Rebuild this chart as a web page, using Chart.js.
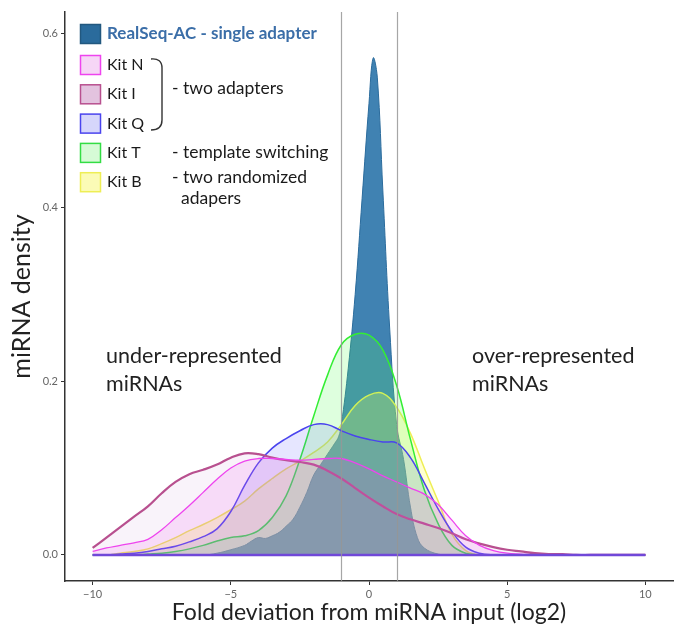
<!DOCTYPE html>
<html>
<head>
<meta charset="utf-8">
<script src="https://cdn.jsdelivr.net/npm/chart.js@4/dist/chart.umd.min.js"></script>
<style>
  html, body { margin: 0; padding: 0; background: #fff; }
  #wrap { width: 677px; height: 626px; }
</style>
</head>
<body>
<div id="wrap"><canvas id="densityChart" width="677" height="626"></canvas></div>
<script>
// x grid for the kit densities (log2 fold deviation)
const kitX = [-10, -9.5, -9, -8.5, -8, -7.5, -7, -6.5, -6, -5.5, -5, -4.5, -4, -3.5, -3, -2.5, -2, -1.5, -1, -0.5,
  0, 0.5, 1, 1.5, 2, 2.5, 3, 3.5, 4, 4.5, 5, 5.5, 6, 6.5, 7, 7.5, 8, 8.5, 9, 9.5, 10];

const kitN = [0.004, 0.008, 0.011, 0.014, 0.018, 0.029, 0.043, 0.057, 0.072, 0.087, 0.100, 0.108, 0.111, 0.111, 0.110, 0.109, 0.110, 0.111, 0.111, 0.106,
  0.099, 0.091, 0.084, 0.077, 0.070, 0.058, 0.040, 0.022, 0.011, 0.005, 0.002, 0.001, 0, 0, 0, 0, 0, 0, 0, 0, 0];
const kitI = [0.008, 0.020, 0.032, 0.044, 0.056, 0.071, 0.084, 0.093, 0.098, 0.104, 0.112, 0.117, 0.116, 0.112, 0.109, 0.107, 0.104, 0.097, 0.088, 0.077,
  0.066, 0.056, 0.047, 0.041, 0.036, 0.031, 0.025, 0.018, 0.013, 0.009, 0.006, 0.004, 0.002, 0.001, 0.001, 0, 0, 0, 0, 0, 0];
const kitQ = [0, 0, 0.001, 0.002, 0.004, 0.007, 0.010, 0.015, 0.021, 0.030, 0.050, 0.080, 0.106, 0.123, 0.134, 0.143, 0.150, 0.150, 0.143, 0.137,
  0.133, 0.130, 0.129, 0.112, 0.083, 0.053, 0.027, 0.009, 0.002, 0, 0, 0, 0, 0, 0, 0, 0, 0, 0, 0, 0];
const kitT = [0, 0, 0, 0, 0.001, 0.002, 0.004, 0.007, 0.011, 0.016, 0.020, 0.022, 0.028, 0.043, 0.068, 0.110, 0.160, 0.207, 0.242, 0.254,
  0.253, 0.236, 0.195, 0.133, 0.075, 0.036, 0.011, 0.002, 0, 0, 0, 0, 0, 0, 0, 0, 0, 0, 0, 0, 0];
const kitB = [0, 0, 0.002, 0.004, 0.007, 0.013, 0.020, 0.028, 0.035, 0.043, 0.052, 0.062, 0.076, 0.088, 0.099, 0.108, 0.118, 0.130, 0.150, 0.172,
  0.184, 0.186, 0.170, 0.140, 0.100, 0.062, 0.024, 0.005, 0, 0, 0, 0, 0, 0, 0, 0, 0, 0, 0, 0, 0];

// RealSeq-AC has a much narrower peak, so its own finer grid
const realX = [-10, -6, -5.5, -5, -4.5, -4.25, -4, -3.75, -3.5, -3.25, -3, -2.75, -2.5, -2.25, -2, -1.75, -1.5, -1.25, -1.1, -1,
  -0.75, -0.5, -0.25, 0, 0.15, 0.3, 0.5, 0.75, 1, 1.25, 1.5, 1.75, 2, 2.5, 3, 10];
const realSeq = [0, 0, 0.002, 0.006, 0.011, 0.016, 0.020, 0.019, 0.022, 0.026, 0.033, 0.041, 0.055, 0.072, 0.092, 0.104, 0.116, 0.128, 0.136, 0.150,
  0.215, 0.30, 0.41, 0.52, 0.572, 0.55, 0.42, 0.26, 0.15, 0.11, 0.055, 0.02, 0.008, 0.001, 0, 0];

const xTicks = [-10, -5, 0, 5, 10];
const yTicks = [0, 0.2, 0.4, 0.6];
const cutoffs = [-1, 1];

const legendItems = [
  { label: 'RealSeq-AC - single adapter', fill: '#2a6b9c', stroke: '#22587f', bold: true },
  { label: 'Kit N', fill: '#f6d6f6', stroke: '#ee44ee' },
  { label: 'Kit I', fill: '#e3c3df', stroke: '#b8508f' },
  { label: 'Kit Q', fill: '#d6d6fb', stroke: '#4a44ee' },
  { label: 'Kit T', fill: '#d6fbd6', stroke: '#33dd44' },
  { label: 'Kit B', fill: '#fbfbb6', stroke: '#eeee55' }
];

function pts(xs, ys) {
  return xs.map((x, i) => ({ x, y: ys[i] }));
}

function density(label, xs, ys, border, fill, width, order) {
  return {
    label,
    data: pts(xs, ys),
    borderColor: border,
    backgroundColor: fill,
    borderWidth: width,
    fill: 'origin',
    pointRadius: 0,
    tension: 0.4,
    order
  };
}

const overlay = {
  id: 'overlay',
  afterDatasetsDraw(chart) {
    const { ctx, chartArea, scales: { x, y } } = chart;
    ctx.save();
    // zero line along the density range
    ctx.strokeStyle = '#7048d8';
    ctx.lineWidth = 2.5;
    ctx.beginPath();
    ctx.moveTo(x.getPixelForValue(kitX[0]), y.getPixelForValue(0));
    ctx.lineTo(x.getPixelForValue(kitX[kitX.length - 1]), y.getPixelForValue(0));
    ctx.stroke();
    // +/- 1 fold cutoffs
    ctx.strokeStyle = 'rgba(150,150,150,0.85)';
    ctx.lineWidth = 1.2;
    cutoffs.forEach(v => {
      const px = Math.round(x.getPixelForValue(v)) + 0.5;
      ctx.beginPath();
      ctx.moveTo(px, chartArea.top);
      ctx.lineTo(px, chartArea.bottom);
      ctx.stroke();
    });

    // legend
    ctx.textBaseline = 'middle';
    legendItems.forEach((item, i) => {
      const top = i === 0 ? 24 : 55 + (i - 1) * 29.3;
      ctx.fillStyle = item.fill;
      ctx.fillRect(80.5, top + 0.5, 20, 19);
      ctx.strokeStyle = item.stroke;
      ctx.lineWidth = 1.5;
      ctx.strokeRect(80.5, top + 0.5, 20, 19);
      ctx.font = item.bold ? 'bold 17px Lato' : '16px Lato';
      ctx.fillStyle = item.bold ? '#3b6ea8' : '#1a1a1a';
      ctx.fillText(item.label, 107, top + 10);
    });

    // brace for the two-adapter kits
    ctx.strokeStyle = '#333';
    ctx.lineWidth = 1.4;
    ctx.beginPath();
    ctx.moveTo(151, 59);
    ctx.quadraticCurveTo(162, 58, 162, 68);
    ctx.lineTo(162, 120);
    ctx.quadraticCurveTo(162, 130, 151, 130);
    ctx.stroke();

    ctx.font = '17.5px Lato';
    ctx.fillStyle = '#1a1a1a';
    ctx.fillText('- two adapters', 172, 88);
    ctx.fillText('- template switching', 172, 152);
    ctx.fillText('- two randomized', 172, 177);
    ctx.fillText('adapers', 181, 198);

    ctx.font = '21.5px Lato';
    ctx.fillStyle = '#222';
    ctx.fillText('under-represented', 106, 356);
    ctx.fillText('miRNAs', 106, 384);
    ctx.fillText('over-represented', 472, 356);
    ctx.fillText('miRNAs', 472, 384);
    ctx.restore();
  }
};

const tickLabel = v => (v < 0 ? '\u2212' + Math.abs(v) : String(v));

new Chart(document.getElementById('densityChart').getContext('2d'), {
  type: 'line',
  data: {
    datasets: [
      density('Kit N', kitX, kitN, '#ee44ee', 'rgba(238,80,238,0.15)', 1.3, 1),
      density('Kit I', kitX, kitI, '#b8508f', 'rgba(190,120,200,0.09)', 2.2, 2),
      density('Kit Q', kitX, kitQ, '#4a44ee', 'rgba(90,90,255,0.15)', 1.5, 3),
      density('Kit T', kitX, kitT, '#33ee33', 'rgba(90,255,90,0.2)', 1.5, 4),
      density('Kit B', kitX, kitB, '#eeee55', 'rgba(255,255,90,0.28)', 1.5, 5),
      density('RealSeq-AC', realX, realSeq, '#2a6b9c', 'rgba(30,108,165,0.85)', 1, 6)
    ]
  },
  options: {
    responsive: false,
    animation: false,
    layout: { padding: { top: 12, right: 4, left: 0, bottom: 0 } },
    plugins: { legend: { display: false }, tooltip: { enabled: false } },
    scales: {
      x: {
        type: 'linear',
        min: -11,
        max: 11,
        afterBuildTicks: s => { s.ticks = xTicks.map(v => ({ value: v })); },
        afterFit: s => { s.height = 45; },
        ticks: { callback: tickLabel, color: '#666', font: { family: 'Lato', size: 11 }, padding: 3, maxRotation: 0 },
        grid: { drawOnChartArea: false, color: '#333', tickLength: 4 },
        border: { color: '#333', width: 1.5 },
        title: { display: true, text: 'Fold deviation from miRNA input (log2)', color: '#222', font: { family: 'Lato', size: 23 }, padding: { top: 0, bottom: 0 } }
      },
      y: {
        min: -0.03,
        max: 0.625,
        afterBuildTicks: s => { s.ticks = yTicks.map(v => ({ value: v })); },
        afterFit: s => { s.width = 65; },
        ticks: { callback: v => v.toFixed(1), color: '#666', font: { family: 'Lato', size: 11 }, padding: 3 },
        grid: { drawOnChartArea: false, color: '#333', tickLength: 4 },
        border: { color: '#333', width: 1.5 },
        title: { display: true, text: 'miRNA density', color: '#222', font: { family: 'Lato', size: 25 }, padding: { top: 7, bottom: 0 } }
      }
    }
  },
  plugins: [overlay]
});
</script>
</body>
</html>
